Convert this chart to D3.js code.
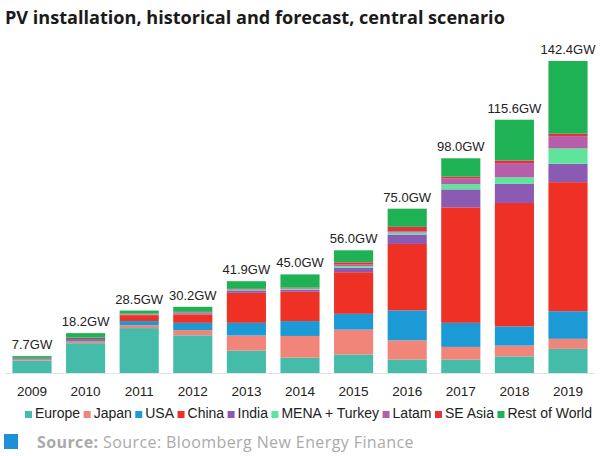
<!DOCTYPE html>
<html>
<head>
<meta charset="utf-8">
<script src="https://cdn.jsdelivr.net/npm/d3@7"></script>
<style>
  body { margin: 0; background: #fff; }
  svg { display: block; }
</style>
</head>
<body>
<svg id="chart" width="600" height="456"></svg>
<script>
var years = ['2009', '2010', '2011', '2012', '2013', '2014', '2015', '2016', '2017', '2018', '2019'];
var totals = [7.7, 18.2, 28.5, 30.2, 41.9, 45.0, 56.0, 75.0, 98.0, 115.6, 142.4];
var regions = ['Europe', 'Japan', 'USA', 'China', 'India', 'MENA + Turkey', 'Latam', 'SE Asia', 'Rest of World'];
var colors = ['#45bca9', '#f2857a', '#1c9ad6', '#ee3124', '#8b5bb4', '#5ee49b', '#b65ea9', '#e53138', '#1fb254'];

// GW per region, one array per region, in year order
var europe = [5.6, 13.6, 20.5, 17.2, 10.2, 7.0, 8.4, 6.1, 6.1, 7.6, 11.0];
var japan = [0.5, 1.0, 1.3, 2.4, 6.9, 9.9, 11.4, 8.8, 5.8, 4.9, 4.6];
var usa = [0.5, 0.9, 1.9, 3.3, 5.8, 6.8, 7.2, 13.7, 11.0, 8.8, 12.6];
var china = [0.3, 0.5, 2.7, 3.8, 13.7, 13.4, 19.0, 30.3, 52.7, 56.3, 58.9];
var india = [0.0, 0.2, 0.3, 0.6, 1.1, 0.9, 2.0, 4.3, 8.2, 8.7, 8.4];
var mena = [0.0, 0.0, 0.1, 0.2, 0.3, 0.4, 0.8, 0.9, 2.4, 3.0, 7.0];
var latam = [0.0, 0.0, 0.1, 0.1, 0.2, 0.3, 0.7, 0.6, 2.6, 6.5, 5.6];
var seAsia = [0.0, 0.0, 0.2, 0.3, 0.2, 0.3, 1.0, 2.0, 0.8, 1.2, 1.1];
var restOfWorld = [0.8, 2.0, 1.4, 2.3, 3.5, 6.0, 5.5, 8.3, 8.4, 18.6, 33.2];

var series = [europe, japan, usa, china, india, mena, latam, seAsia, restOfWorld];

var rows = years.map(function(y, i) {
  var r = {year: y};
  regions.forEach(function(reg, j) { r[reg] = series[j][i]; });
  return r;
});

var svg = d3.select('#chart');
var baseY = 373;

var x = d3.scaleBand()
    .domain(years)
    .range([6, 594])
    .paddingInner(0.27)
    .paddingOuter(0.12);

var y = d3.scaleLinear()
    .domain([0, 142.4])
    .range([baseY, 61]);

var stack = d3.stack().keys(regions)(rows);
var color = d3.scaleOrdinal().domain(regions).range(colors);

// title
svg.append('text')
    .attr('x', 5)
    .attr('y', 24)
    .style('font-family', 'Open Sans, sans-serif')
    .style('font-weight', 'bold')
    .style('font-size', '18.1px')
    .style('fill', '#1a1a1a')
    .text('PV installation, historical and forecast, central scenario');

// bars
svg.append('g').selectAll('g')
    .data(stack)
    .enter().append('g')
    .attr('fill', function(d) { return color(d.key); })
    .selectAll('rect')
    .data(function(d) { return d; })
    .enter().append('rect')
    .attr('x', function(d) { return x(d.data.year); })
    .attr('width', x.bandwidth())
    .attr('y', function(d) { return y(d[1]); })
    .attr('height', function(d) { return Math.max(0, y(d[0]) - y(d[1])); });

// baseline
svg.append('line')
    .attr('x1', 5).attr('x2', 595)
    .attr('y1', baseY + 0.5).attr('y2', baseY + 0.5)
    .style('stroke', '#e2e2e2')
    .style('stroke-width', 1);

// total labels
svg.append('g').selectAll('text')
    .data(totals)
    .enter().append('text')
    .attr('x', function(d, i) { return x(years[i]) + x.bandwidth() / 2; })
    .attr('y', function(d) { return y(d) - 7; })
    .attr('text-anchor', 'middle')
    .style('font-family', 'Liberation Sans, Arial, sans-serif')
    .style('font-size', '13px')
    .style('fill', '#222')
    .text(function(d) { return d.toFixed(1) + 'GW'; });

// x axis labels
var xAxis = svg.append('g')
    .attr('transform', 'translate(0,' + baseY + ')')
    .call(d3.axisBottom(x).tickSize(0).tickPadding(13));
xAxis.select('.domain').remove();
xAxis.selectAll('text')
    .style('font-family', 'Liberation Sans, Arial, sans-serif')
    .style('font-size', '13.5px')
    .style('fill', '#222');

// legend
var legend = svg.append('g').attr('transform', 'translate(0,418)');
var items = [];
var textTotal = 0;
regions.forEach(function(reg, i) {
  var item = legend.append('g');
  item.append('rect')
      .attr('x', 0).attr('y', -7)
      .attr('width', 7).attr('height', 7)
      .attr('fill', colors[i]);
  var t = item.append('text')
      .attr('x', 10)
      .attr('y', 0)
      .style('font-family', 'Liberation Sans, Arial, sans-serif')
      .style('font-size', '14px')
      .style('fill', '#222')
      .text(reg);
  var w = 10 + t.node().getComputedTextLength();
  textTotal += w;
  items.push({g: item, w: w});
});
var legStart = 25, legEnd = 592;
var gap = (legEnd - legStart - textTotal) / (items.length - 1);
var lx = legStart;
items.forEach(function(it) {
  it.g.attr('transform', 'translate(' + lx + ',0)');
  lx += it.w + gap;
});

// source
svg.append('rect')
    .attr('x', 4).attr('y', 434)
    .attr('width', 14).attr('height', 15)
    .attr('fill', '#1e90d8');
var src = svg.append('text')
    .attr('x', 37)
    .attr('y', 448)
    .style('font-family', 'Open Sans, sans-serif')
    .style('font-size', '16px')
    .style('letter-spacing', '0.4px')
    .style('fill', '#aaa');
src.append('tspan').style('font-weight', 'bold').text('Source: ');
src.append('tspan').text('Source: Bloomberg New Energy Finance');
</script>
</body>
</html>
